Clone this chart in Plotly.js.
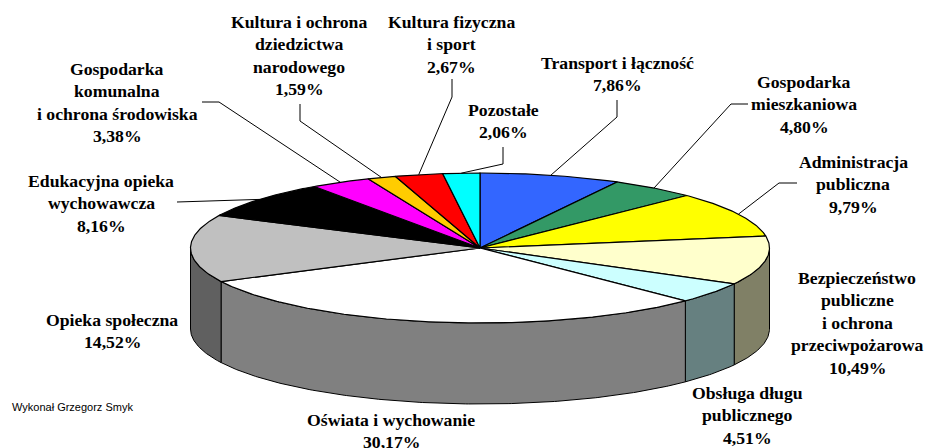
<!DOCTYPE html>
<html>
<head>
<meta charset="utf-8">
<script src="https://cdn.plot.ly/plotly-3.0.1.min.js"></script>
<style>html,body{margin:0;padding:0;background:#fff}#c{width:925px;height:448px}</style>
</head>
<body>
<div id="c"></div>
<script>
// Data, clockwise from 12 o'clock
const categories = ["Transport i łączność","Gospodarka mieszkaniowa","Administracja publiczna","Bezpieczeństwo publiczne i ochrona przeciwpożarowa","Obsługa długu publicznego","Oświata i wychowanie","Opieka społeczna","Edukacyjna opieka wychowawcza","Gospodarka komunalna i ochrona środowiska","Kultura i ochrona dziedzictwa narodowego","Kultura fizyczna i sport","Pozostałe"];
const values = [7.86,4.80,9.79,10.49,4.51,30.17,14.52,8.16,3.38,1.59,2.67,2.06];
const valueLabels = ["7,86%","4,80%","9,79%","10,49%","4,51%","30,17%","14,52%","8,16%","3,38%","1,59%","2,67%","2,06%"];
const topColors = ["#3366FF","#339966","#FFFF00","#FFFFCC","#CCFFFF","#FFFFFF","#C0C0C0","#000000","#FF00FF","#FFCC00","#FF0000","#00FFFF"];
const wallColors = ["#1A3380","#1A4D33","#808000","#808066","#668080","#808080","#606060","#000000","#800080","#806600","#800000","#008080"];
// Label wrapping as in the picture
const labelLines = [["Transport i łączność"],["Gospodarka","mieszkaniowa"],["Administracja","publiczna"],["Bezpieczeństwo","publiczne","i ochrona","przeciwpożarowa"],["Obsługa długu","publicznego"],["Oświata i wychowanie"],["Opieka społeczna"],["Edukacyjna opieka","wychowawcza"],["Gospodarka","komunalna","i ochrona środowiska"],["Kultura i ochrona","dziedzictwa","narodowego"],["Kultura fizyczna","i sport"],["Pozostałe"]];
// Label placement (separate from the data)
const labelX = [617,804,853,857,747,391,112,101,117,299,451,503];
const labelY = [63,82,162,278,393,420,320,181,69,22,22,110];
const lineStep = 22.4;
const leaderPaths = [[[617,100],[617,117]],[[748,104],[731,104]],[[797,183],[779,183]],null,null,null,null,[[177,202]],[[202,102],[219,102]],[[300,104],[300,121]],[[452,79],[452,97]],[[503,147],[503,164]]];

// Pie geometry
const cx = 480, cy = 248, rx = 289.5, ry = 75, depth = 81;
const font = "Liberation Serif";
const total = values.reduce((a,b)=>a+b,0);
const px = a => cx + rx*Math.sin(a), py = a => cy - ry*Math.cos(a);
const arc = (a,b,dy=0) => {
  const n = Math.max(2,Math.ceil(Math.abs(b-a)/0.01)), o = [];
  for (let i=0;i<=n;i++){const t=a+(b-a)*i/n;o.push([px(t),py(t)+dy]);}
  return o;
};
const base = {type:"scatter",mode:"lines",hoverinfo:"skip",showlegend:false};
const poly = (pts,fill,w) => Object.assign({},base,{x:pts.map(p=>p[0]),y:pts.map(p=>p[1]),fill:"toself",fillcolor:fill,line:{color:"#000",width:w}});

const walls=[], tops=[], leaders=[], annotations=[];
let acc=0;
values.forEach((v,i)=>{
  const a=acc/total*2*Math.PI; acc+=v; const b=acc/total*2*Math.PI, m=(a+b)/2;
  const s=Math.max(a,Math.PI/2), e=Math.min(b,3*Math.PI/2);
  if(e>s){ walls.push(poly(arc(s,e).concat(arc(e,s,depth)).concat([[px(s),py(s)]]),wallColors[i],1)); }
  tops.push(poly([[cx,cy]].concat(arc(a,b)).concat([[cx,cy]]),topColors[i],1.2));
  if(leaderPaths[i]){
    const pts=leaderPaths[i].concat([[px(m),py(m)]]);
    leaders.push(Object.assign({},base,{x:pts.map(p=>p[0]),y:pts.map(p=>p[1]),line:{color:"#000",width:1}}));
  }
  labelLines[i].concat([valueLabels[i]]).forEach((t,k)=>annotations.push({
    x:labelX[i],y:labelY[i]+k*lineStep,xref:"x",yref:"y",text:"<b>"+t+"</b>",showarrow:false,
    xanchor:"center",yanchor:"middle",font:{family:font,size:17.7,color:"#000"}
  }));
});
annotations.push({x:10,y:407,xref:"x",yref:"y",text:"Wykonał Grzegorz Smyk",showarrow:false,xanchor:"left",yanchor:"middle",font:{family:"Liberation Sans",size:11,color:"#000"}});

Plotly.newPlot("c",walls.concat(tops,leaders),{
  width:925,height:448,margin:{l:0,r:0,t:0,b:0},paper_bgcolor:"#fff",plot_bgcolor:"#fff",showlegend:false,
  xaxis:{range:[0,925],visible:false,fixedrange:true},
  yaxis:{range:[448,0],visible:false,fixedrange:true},
  annotations
},{displayModeBar:false,staticPlot:true});
</script>
</body>
</html>
